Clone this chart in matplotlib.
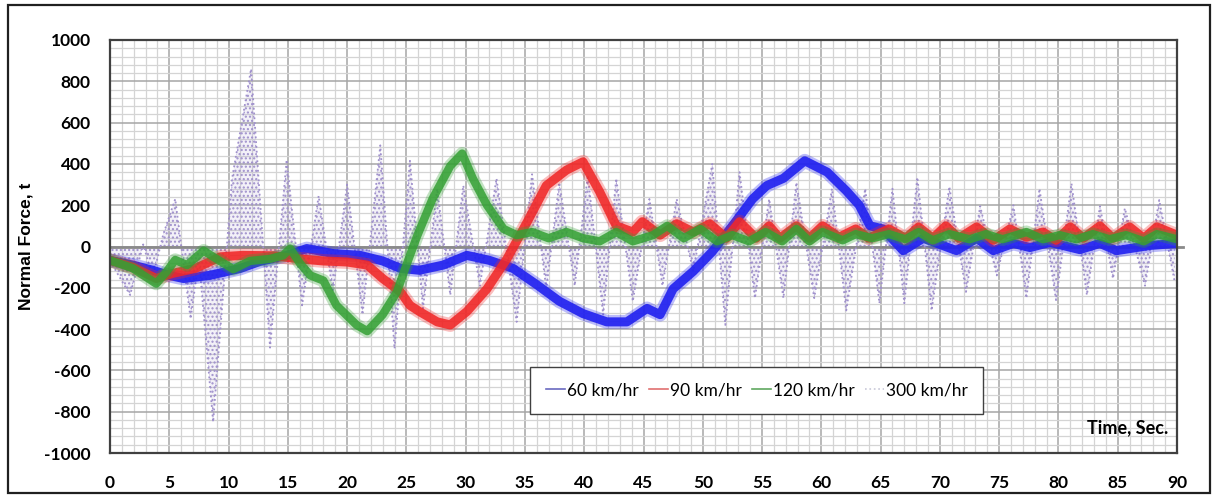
import matplotlib
matplotlib.use("Agg")
import matplotlib.pyplot as plt
from matplotlib.patches import Rectangle
from matplotlib.ticker import MultipleLocator

# ---- data (time s, normal force t) ----
t60 = [0, 1.9, 3.6, 5.0, 6.2, 8.4, 11.0, 12.6, 14.9, 16.6, 18.8, 21.1, 23.0, 24.5, 26.1, 28.1,
       30.1, 32.0, 34.0, 36.0, 37.9, 39.9, 41.9, 43.6, 45.3, 46.4, 47.5, 49.2, 50.8, 52.5, 54.2,
       55.4, 56.8, 58.6, 60.5, 62.1, 63.2, 64.1, 65.2, 66.9, 68.6, 70.0, 71.4, 73.1, 74.5, 76.2,
       77.6, 79.3, 81.8, 83.5, 84.9, 87.7, 90]
f60 = [-67, -90, -115, -140, -155, -140, -106, -73, -43, -10, -34, -43, -70, -106, -115, -90,
       -43, -67, -106, -185, -265, -325, -365, -365, -300, -330, -205, -120, -25, 100, 230,
       295, 330, 415, 360, 270, 200, 100, 85, -20, 40, 10, -20, 40, -20, 15,
       -5, 20, -15, 15, -20, 5, 15]

t90 = [0, 1.9, 3.9, 5.3, 7.2, 9.3, 11.2, 13.8, 16.0, 18.0, 20.0, 21.7, 23.0, 24.5, 25.3, 26.1,
       27.6, 28.7, 30.1, 31.8, 33.5, 35.2, 36.8, 38.5, 39.9, 41.3, 42.7, 44.1, 44.9, 46.4, 47.8,
       49.2, 50.6, 52.0, 53.1, 54.5, 55.6, 56.5, 57.9, 59.0, 60.1, 61.5, 62.9, 64.0, 65.7, 67.1,
       68.2, 69.4, 70.5, 71.6, 73.1, 74.5, 75.9, 77.3, 78.7, 79.8, 81.0, 82.1, 83.5, 84.6, 86.0,
       87.2, 88.3, 90]
f90 = [-67, -100, -155, -130, -106, -50, -43, -45, -60, -70, -75, -90, -155, -220, -285, -315,
       -365, -380, -315, -205, -58, 120, 295, 370, 410, 265, 100, 70, 120, 55, 110,
       70, 110, 40, 120, 40, 100, 40, 100, 40, 100, 45, 85, 40, 85, 40,
       95, 40, 100, 40, 95, 30, 85, 45, 70, 30, 95, 40, 100, 40, 95,
       40, 95, 55]

t120 = [0, 1.9, 3.9, 4.8, 5.5, 6.5, 7.9, 8.7, 10.4, 11.8, 13.5, 14.6, 15.2, 16.0, 16.9, 18.0,
        19.1, 20.8, 21.7, 23.0, 24.2, 25.0, 25.9, 27.2, 28.7, 29.7, 30.6, 31.8, 33.2, 34.3, 35.6,
        37.0, 38.5, 39.9, 41.3, 42.7, 44.1, 45.8, 47.0, 48.4, 49.8, 51.2, 52.5, 53.9, 55.3, 56.7,
        57.9, 59.0, 60.1, 61.8, 62.9, 64.3, 65.7, 67.1, 68.2, 69.4, 70.8, 72.5, 73.9, 75.3, 77.3,
        78.7, 80.1, 81.5, 82.9, 84.3, 85.7, 87.2, 88.3, 90]
f120 = [-67, -105, -180, -120, -65, -90, -20, -50, -110, -70, -60, -43, -10, -80, -140, -165,
        -285, -380, -410, -330, -220, -90, 50, 230, 390, 450, 330, 200, 85, 55, 70,
        40, 70, 40, 25, 70, 25, 55, 100, 40, 85, 25, 55, 25, 70, 25,
        85, 25, 70, 30, 60, 40, 60, 35, 70, 30, 60, 35, 60, 35, 70,
        35, 55, 35, 60, 35, 55, 25, 60, 35]

# 300 km/hr: successive peaks / troughs of the slow swing
t300 = [0, 1.7, 2.8, 3.6, 4.5, 5.5, 6.8, 7.5, 8.7, 10.3, 11.9, 13.5, 14.9, 16.2, 17.6, 18.8,
        20.0, 21.3, 22.8, 24.0, 25.3, 26.4, 27.6, 28.7, 29.8, 31.2, 32.6, 34.3, 35.6, 36.8, 37.9,
        39.2, 40.3, 41.6, 42.7, 44.1, 45.5, 46.6, 47.8, 49.2, 50.8, 51.9, 53.1, 54.4, 55.6, 56.8,
        57.9, 59.4, 60.9, 62.1, 63.7, 64.9, 66.0, 67.0, 68.1, 69.3, 70.8, 72.2, 73.4, 74.8, 76.2,
        77.3, 78.4, 79.8, 81.1, 82.4, 83.5, 84.6, 85.6, 87.3, 88.5, 89.8]
f300 = [-70, -235, 10, -150, 60, 230, -350, -60, -850, 330, 860, -490, 420, -285, 245, -220,
        300, -330, 490, -495, 415, -300, 280, -235, 295, -190, 330, -365, 350, -205, 310,
        -190, 345, -330, 330, -265, 230, -190, 230, -120, 400, -380, 360, -250, 230, -250,
        310, -250, 280, -310, 280, -275, 280, -275, 335, -310, 290, -220, 195, -140, 200,
        -250, 280, -260, 305, -235, 195, -155, 185, -190, 225, -170]

labels = ["60 km/hr", "90 km/hr", "120 km/hr", "300 km/hr"]

plt.rcParams["hatch.linewidth"] = 1.0
plt.rcParams["axes.unicode_minus"] = False
fig = plt.figure(figsize=(12.17, 4.97), dpi=100)
ax = fig.add_axes([110 / 1217, 1 - 453 / 497, 1067 / 1217, 413 / 497])

ax.set_xlim(0, 90)
ax.set_ylim(-1000, 1000)
ax.xaxis.set_major_locator(MultipleLocator(5))
ax.xaxis.set_minor_locator(MultipleLocator(1))
ax.yaxis.set_major_locator(MultipleLocator(200))
ax.yaxis.set_minor_locator(MultipleLocator(40))
ax.grid(which="minor", color="#d4d4d4", lw=0.9)
ax.grid(which="major", color="#a6a6a6", lw=1.1)
ax.set_axisbelow(True)
ax.tick_params(which="both", length=0)
ax.tick_params(axis="x", pad=16)
ax.tick_params(axis="y", pad=14)
for lab in ax.get_xticklabels() + ax.get_yticklabels():
    lab.set_fontfamily("Lato")
    lab.set_fontweight("bold")
    lab.set_fontsize(12.5)
for s in ax.spines.values():
    s.set_color("#404040")
    s.set_linewidth(1.6)

# 300 km/hr dotted lobes
lav = "#a091cc"
ax.fill_between(t300, 0, f300, facecolor="none", edgecolor=lav, hatch="....", lw=0)
ax.fill_between(t300, 0, f300, facecolor=lav, alpha=0.12, lw=0)
l300, = ax.plot(t300, f300, ls=":", color=lav, lw=1.3)

# thick fuzzy bands for the three slower speeds
ax.plot(t60, f60, color="#2323f0", lw=10, alpha=0.3, solid_joinstyle="round")
l60, = ax.plot(t60, f60, color="#2323f0", lw=6.5, alpha=0.92, solid_joinstyle="round")
ax.plot(t90, f90, color="#f02828", lw=10, alpha=0.3, solid_joinstyle="round")
l90, = ax.plot(t90, f90, color="#f02828", lw=6.5, alpha=0.88, solid_joinstyle="round")
ax.plot(t120, f120, color="#34a034", lw=9.5, alpha=0.3, solid_joinstyle="round")
l120, = ax.plot(t120, f120, color="#34a034", lw=6, alpha=0.85, solid_joinstyle="round")

ax.axhline(0, xmin=0, xmax=1.006, color="#8a8a8a", lw=2, clip_on=False, zorder=1.5)

ax.set_ylabel("Normal Force, t", fontfamily="Liberation Sans", fontweight="bold", fontsize=12.5)
ax.yaxis.set_label_coords(-76 / 1067, 0.5)
ax.text(0.992, 0.06, "Time, Sec.", transform=ax.transAxes, ha="right", va="center",
        fontfamily="Lato", fontweight="bold", fontsize=13)

leg = ax.legend([l60, l90, l120, l300], labels, loc="center", bbox_to_anchor=(0.606, 0.152),
                ncol=4, frameon=True, fancybox=False, framealpha=1, edgecolor="#404040",
                prop={"family": "Lato", "size": 12.5}, handlelength=1.1, handletextpad=0.1,
                columnspacing=0.6, borderpad=0.9)
leg.get_frame().set_linewidth(1.0)
cols = ["#6a6ac0", "#e07070", "#60a860", "#c8c8d8"]
for h, c in zip(leg.legend_handles, cols):
    h.set_linewidth(1.2)
    h.set_alpha(1)
    h.set_color(c)

fig.patches.append(Rectangle((8 / 1217, 1 - 493 / 497), 1202 / 1217, 488 / 497,
                             transform=fig.transFigure, fill=False, edgecolor="#202020", lw=1.6))

fig.savefig("out.png", dpi=100)
